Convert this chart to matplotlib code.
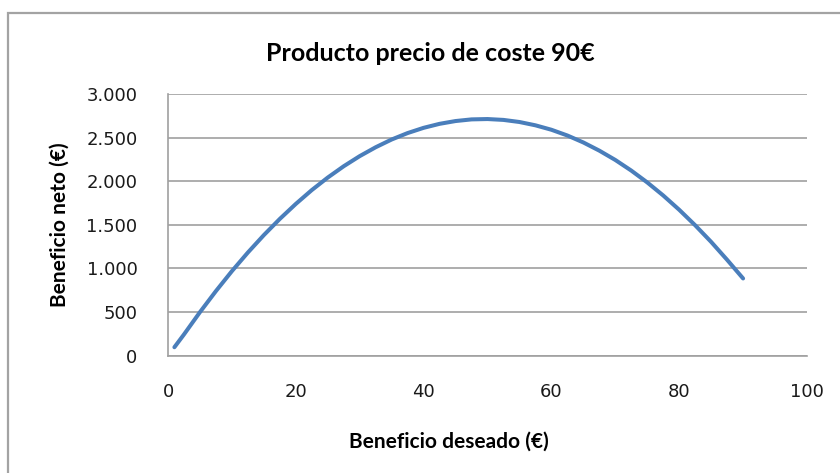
import matplotlib.pyplot as plt
from matplotlib.patches import Rectangle

# beneficio deseado (€) vs beneficio neto (€), producto con coste 90€
deseado = [1, 2.5, 5, 7.5, 10, 12.5, 15, 17.5, 20, 22.5, 25, 27.5, 30, 32.5,
           35, 37.5, 40, 42.5, 45, 47.5, 50, 52.5, 55, 57.5, 60, 62.5, 65,
           67.5, 70, 72.5, 75, 77.5, 80, 82.5, 85, 87.5, 90]
neto = [95, 242, 498, 740, 969, 1183, 1383, 1569, 1741, 1900, 2044, 2174,
        2290, 2392, 2481, 2555, 2615, 2661, 2693, 2712, 2716, 2706, 2682,
        2644, 2593, 2527, 2447, 2353, 2246, 2124, 1988, 1838, 1674, 1496,
        1305, 1099, 885]

yticks = [0, 500, 1000, 1500, 2000, 2500, 3000]
ytick_labels = ['0', '500', '1.000', '1.500', '2.000', '2.500', '3.000']
xticks = [0, 20, 40, 60, 80, 100]

fig = plt.figure(figsize=(8.4, 4.73), dpi=100)
ax = fig.add_axes([0.2, 0.2484, 0.7607, 0.5522])

# chart border (runs off the right and bottom edges)
fig.patches.append(Rectangle((8 / 840, -0.05), 1.0, (473 - 13.5) / 473 + 0.05,
                             transform=fig.transFigure, fill=False,
                             edgecolor='#a3a3a3', linewidth=1.6))

ax.plot(deseado, neto, color='#4a7ebb', linewidth=2.9, solid_capstyle='round',
        solid_joinstyle='round', zorder=3)

ax.set_xlim(0, 100)
ax.set_ylim(0, 3000)
ax.set_yticks(yticks)
ax.set_yticklabels(ytick_labels)
ax.set_xticks(xticks)
ax.grid(axis='y', color='#a0a0a0', linewidth=1.2)
ax.set_axisbelow(True)
for s in ['top', 'right']:
    ax.spines[s].set_visible(False)
for s in ['left', 'bottom']:
    ax.spines[s].set_color('#a0a0a0')
    ax.spines[s].set_linewidth(1.2)
ax.tick_params(length=0, labelsize=13, labelcolor='#1a1a1a')
ax.tick_params(axis='y', pad=22)
ax.tick_params(axis='x', pad=20)

# title and x label sit left of the plot-area centre, centred on the chart
ax.set_title('Producto precio de coste 90€', family='Lato', fontweight='bold',
             fontsize=18, pad=24, x=0.41)
ax.set_xlabel('Beneficio deseado (€)', family='Lato', fontweight='bold',
              fontsize=15)
ax.xaxis.set_label_coords(0.44, -0.29)
ax.set_ylabel('Beneficio neto (€)', family='Lato', fontweight='bold',
              fontsize=15, labelpad=12)

plt.savefig('out.png')
plt.close()
